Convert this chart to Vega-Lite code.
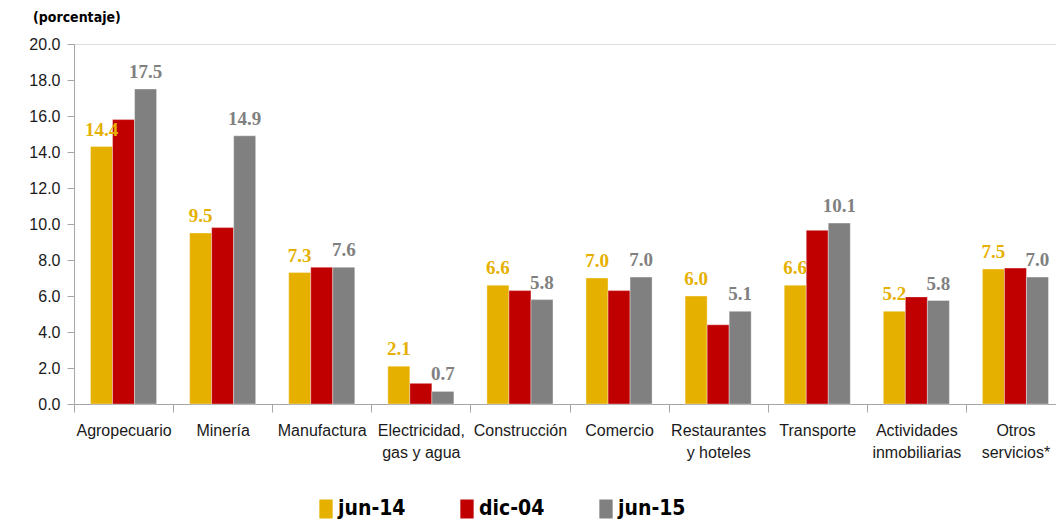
{
  "$schema": "https://vega.github.io/schema/vega-lite/v6.json",
  "width": 982,
  "height": 360,
  "autosize": "none",
  "padding": {"left": 74, "top": 44, "right": 0, "bottom": 120},
  "background": "white",
  "title": {
    "text": "(porcentaje)",
    "anchor": "start",
    "frame": "group",
    "dx": -41,
    "offset": 11,
    "font": "DejaVu Sans Condensed",
    "fontSize": 14,
    "fontWeight": "bold",
    "color": "#000000"
  },
  "data": {
    "values": [
      {"sector": "Agropecuario", "periodo": "jun-14", "valor": 14.3, "etiqueta": "14.4"},
      {"sector": "Agropecuario", "periodo": "dic-04", "valor": 15.8, "etiqueta": ""},
      {"sector": "Agropecuario", "periodo": "jun-15", "valor": 17.5, "etiqueta": "17.5"},
      {"sector": "Minería", "periodo": "jun-14", "valor": 9.5, "etiqueta": "9.5"},
      {"sector": "Minería", "periodo": "dic-04", "valor": 9.8, "etiqueta": ""},
      {"sector": "Minería", "periodo": "jun-15", "valor": 14.9, "etiqueta": "14.9"},
      {"sector": "Manufactura", "periodo": "jun-14", "valor": 7.3, "etiqueta": "7.3"},
      {"sector": "Manufactura", "periodo": "dic-04", "valor": 7.6, "etiqueta": ""},
      {"sector": "Manufactura", "periodo": "jun-15", "valor": 7.6, "etiqueta": "7.6"},
      {"sector": "Electricidad, gas y agua", "periodo": "jun-14", "valor": 2.1, "etiqueta": "2.1"},
      {"sector": "Electricidad, gas y agua", "periodo": "dic-04", "valor": 1.15, "etiqueta": ""},
      {"sector": "Electricidad, gas y agua", "periodo": "jun-15", "valor": 0.7, "etiqueta": "0.7"},
      {"sector": "Construcción", "periodo": "jun-14", "valor": 6.6, "etiqueta": "6.6"},
      {"sector": "Construcción", "periodo": "dic-04", "valor": 6.3, "etiqueta": ""},
      {"sector": "Construcción", "periodo": "jun-15", "valor": 5.8, "etiqueta": "5.8"},
      {"sector": "Comercio", "periodo": "jun-14", "valor": 7.0, "etiqueta": "7.0"},
      {"sector": "Comercio", "periodo": "dic-04", "valor": 6.3, "etiqueta": ""},
      {"sector": "Comercio", "periodo": "jun-15", "valor": 7.05, "etiqueta": "7.0"},
      {"sector": "Restaurantes y hoteles", "periodo": "jun-14", "valor": 6.0, "etiqueta": "6.0"},
      {"sector": "Restaurantes y hoteles", "periodo": "dic-04", "valor": 4.4, "etiqueta": ""},
      {"sector": "Restaurantes y hoteles", "periodo": "jun-15", "valor": 5.15, "etiqueta": "5.1"},
      {"sector": "Transporte", "periodo": "jun-14", "valor": 6.6, "etiqueta": "6.6"},
      {"sector": "Transporte", "periodo": "dic-04", "valor": 9.65, "etiqueta": ""},
      {"sector": "Transporte", "periodo": "jun-15", "valor": 10.05, "etiqueta": "10.1"},
      {"sector": "Actividades inmobiliarias", "periodo": "jun-14", "valor": 5.15, "etiqueta": "5.2"},
      {"sector": "Actividades inmobiliarias", "periodo": "dic-04", "valor": 5.95, "etiqueta": ""},
      {"sector": "Actividades inmobiliarias", "periodo": "jun-15", "valor": 5.75, "etiqueta": "5.8"},
      {"sector": "Otros servicios*", "periodo": "jun-14", "valor": 7.5, "etiqueta": "7.5"},
      {"sector": "Otros servicios*", "periodo": "dic-04", "valor": 7.55, "etiqueta": ""},
      {"sector": "Otros servicios*", "periodo": "jun-15", "valor": 7.05, "etiqueta": "7.0"}
    ]
  },
  "encoding": {
    "x": {
      "field": "sector",
      "type": "nominal",
      "sort": null,
      "scale": {"paddingInner": 0, "paddingOuter": 0, "range": [0, 991]},
      "axis": {
        "title": null,
        "labelAngle": 0,
        "tickBand": "extent",
        "domainColor": "#A6A6A6",
        "tickColor": "#A6A6A6",
        "tickSize": 8,
        "labelPadding": 10,
        "labelFont": "Liberation Sans",
        "labelFontSize": 16,
        "labelColor": "#1a1a1a",
        "labelLineHeight": 22,
        "labelLimit": 200,
        "labelExpr": "datum.value == 'Electricidad, gas y agua' ? ['Electricidad,', 'gas y agua'] : datum.value == 'Restaurantes y hoteles' ? ['Restaurantes', 'y hoteles'] : datum.value == 'Actividades inmobiliarias' ? ['Actividades', 'inmobiliarias'] : datum.value == 'Otros servicios*' ? ['Otros', 'servicios*'] : datum.value"
      }
    },
    "xOffset": {
      "field": "periodo",
      "type": "nominal",
      "sort": ["jun-14", "dic-04", "jun-15"],
      "scale": {"paddingInner": 0, "paddingOuter": 0.75}
    },
    "y": {
      "field": "valor",
      "type": "quantitative",
      "scale": {"domain": [0, 20], "nice": false},
      "axis": {
        "title": null,
        "values": [0, 2, 4, 6, 8, 10, 12, 14, 16, 18, 20],
        "format": ".1f",
        "grid": false,
        "domainColor": "#A6A6A6",
        "tickColor": "#A6A6A6",
        "tickSize": 7,
        "labelPadding": 7,
        "labelFont": "Liberation Sans",
        "labelFontSize": 16,
        "labelColor": "#1a1a1a"
      }
    }
  },
  "layer": [
    {
      "mark": {"type": "bar", "stroke": "white", "strokeWidth": 0.6, "strokeOpacity": 0.6},
      "encoding": {
        "color": {
          "field": "periodo",
          "type": "nominal",
          "sort": ["jun-14", "dic-04", "jun-15"],
          "scale": {"domain": ["jun-14", "dic-04", "jun-15"], "range": ["#E6B000", "#C00000", "#808080"]},
          "legend": {
            "title": null,
            "orient": "none",
            "direction": "horizontal",
            "legendX": 233,
            "legendY": 446,
            "symbolType": "M-0.35,-0.5H0.35V0.5H-0.35Z",
            "symbolSize": 1444,
            "symbolStrokeWidth": 0,
            "symbolOpacity": 1,
            "labelFont": "DejaVu Sans Condensed",
            "labelFontSize": 21,
            "labelFontWeight": "bold",
            "labelColor": "#000000",
            "labelOffset": -7,
            "columnPadding": 42
          }
        }
      }
    },
    {
      "mark": {
        "type": "text",
        "baseline": "alphabetic",
        "dy": -11,
        "font": "Liberation Serif",
        "fontSize": 19,
        "fontWeight": "bold"
      },
      "encoding": {
        "text": {"field": "etiqueta"},
        "color": {
          "field": "periodo",
          "type": "nominal",
          "scale": {"domain": ["jun-14", "dic-04", "jun-15"], "range": ["#D9A300", "#C00000", "#808080"]},
          "legend": null
        }
      }
    }
  ]
}
